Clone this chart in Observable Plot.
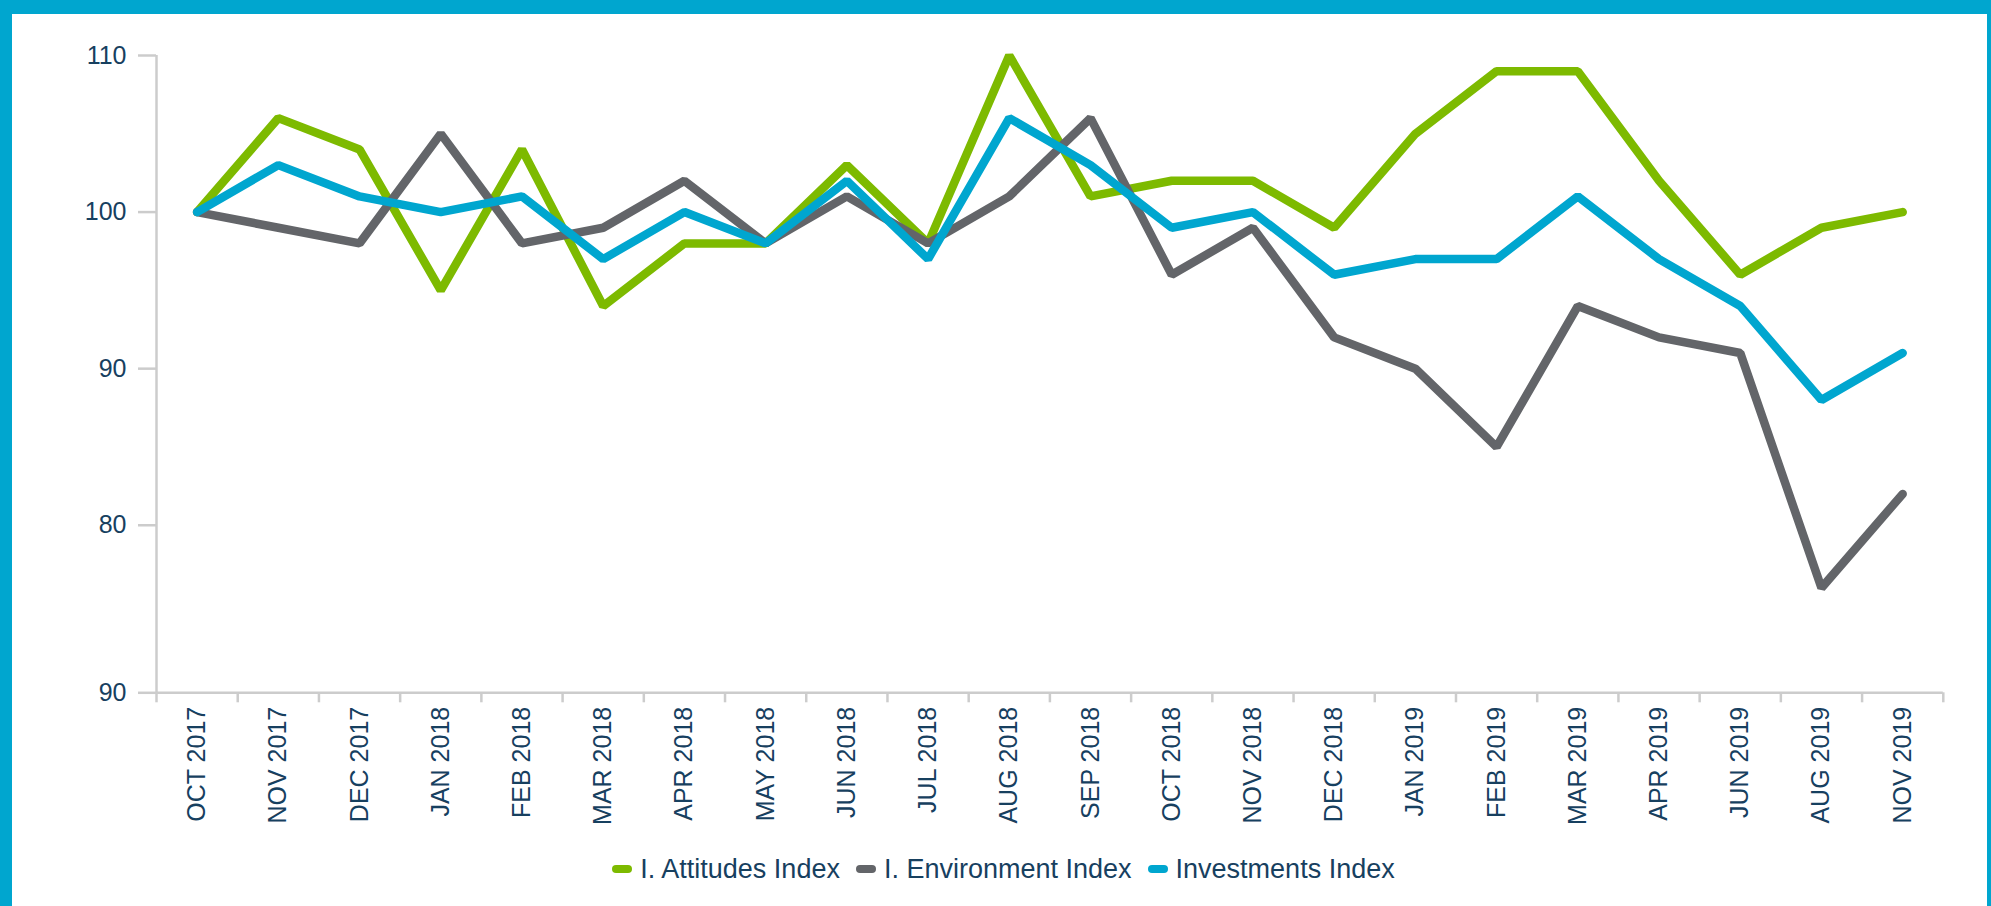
<!DOCTYPE html>
<html>
<head>
<meta charset="utf-8">
<script src="https://cdn.jsdelivr.net/npm/d3@7"></script>
<script src="https://cdn.jsdelivr.net/npm/@observablehq/plot@0.6"></script>
<style>
  html, body { margin: 0; padding: 0; background: #fff; }
  #frame {
    position: relative;
    width: 1991px; height: 906px;
    box-sizing: border-box;
    border-top: 14px solid #00a6cf;
    border-left: 12px solid #00a6cf;
    border-right: 4px solid #00a6cf;
    background: #fff;
    overflow: hidden;
  }
  #chart svg { display: block; font-family: "Liberation Sans", Arial, Helvetica, sans-serif; color: #17405f; }
  #legend {
    position: absolute; left: 8px; right: 0; top: 840px;
    display: flex; justify-content: center; align-items: center;
    font-family: "Liberation Sans", Arial, Helvetica, sans-serif;
    font-size: 27px; line-height: 30px; color: #17405f;
  }
  .item { display: flex; align-items: center; margin: 0 8px; }
  .sw { width: 20px; height: 8px; border-radius: 4px; margin-right: 8px; }
</style>
</head>
<body>
<div id="frame">
  <div id="chart"></div>
  <div id="legend"></div>
</div>
<script>
const months = ["OCT 2017","NOV 2017","DEC 2017","JAN 2018","FEB 2018","MAR 2018","APR 2018","MAY 2018","JUN 2018","JUL 2018","AUG 2018","SEP 2018","OCT 2018","NOV 2018","DEC 2018","JAN 2019","FEB 2019","MAR 2019","APR 2019","JUN 2019","AUG 2019","NOV 2019"];
const seriesNames = ["I. Attitudes Index", "I. Environment Index", "Investments Index"];
const seriesColors = ["#7dba00", "#636569", "#00a6cf"];
const attitudes   = [100,106,104,95,104,94,98,98,103,98,110,101,102,102,99,105,109,109,102,96,99,100];
const environment = [100,99,98,105,98,99,102,98,101,98,101,106,96,99,92,90,85,94,92,91,76,82];
const investments = [100,103,101,100,101,97,100,98,102,97,106,103,99,100,96,97,97,101,97,94,88,91];
const yTickValues = [110, 100, 90, 80, 69.3];
const yTickLabels = ["110", "100", "90", "80", "90"];

const seriesValues = [attitudes, environment, investments];
const data = [];
seriesValues.forEach((vals, s) => vals.forEach((v, i) => data.push({i, v, s: seriesNames[s]})));

const yMin = yTickValues[yTickValues.length - 1];
const bandEdges = d3.range(months.length + 1).map(k => k - 0.5);

const plot = Plot.plot({
  width: 1975,
  height: 830,
  marginLeft: 144,
  marginRight: 44.2,
  marginTop: 41,
  marginBottom: 151.7,
  x: {type: "linear", domain: [-0.5, months.length - 0.5], label: null},
  y: {domain: [yMin, 110], label: null},
  color: {domain: seriesNames, range: seriesColors},
  marks: [
    Plot.ruleX([-0.5], {stroke: "#cccccc", strokeWidth: 2.5}),
    Plot.ruleY([yMin], {stroke: "#cccccc", strokeWidth: 2.5}),
    Plot.axisY({ticks: yTickValues, label: null, tickSize: 18, tickPadding: 12, stroke: "#cccccc", strokeWidth: 2.5, fill: "#17405f", fontSize: 25,
      tickFormat: d => yTickLabels[yTickValues.indexOf(d)]}),
    Plot.axisX({ticks: bandEdges, label: null, tickSize: 10, stroke: "#cccccc", strokeWidth: 2.5, tickFormat: () => ""}),
    Plot.axisX({ticks: d3.range(months.length), label: null, tickSize: 0, tickPadding: 14, tickRotate: -90, fill: "#17405f", fontSize: 25,
      tickFormat: i => months[i]}),
    Plot.line(data, {x: "i", y: "v", z: "s", stroke: "s", strokeWidth: 8.5, strokeLinejoin: "miter", strokeLinecap: "round"})
  ]
});
document.getElementById("chart").appendChild(plot);

const legend = document.getElementById("legend");
seriesNames.forEach((name, k) => {
  const item = document.createElement("div");
  item.className = "item";
  const sw = document.createElement("div");
  sw.className = "sw";
  sw.style.background = seriesColors[k];
  const label = document.createElement("span");
  label.textContent = name;
  item.appendChild(sw);
  item.appendChild(label);
  legend.appendChild(item);
});
</script>
</body>
</html>
